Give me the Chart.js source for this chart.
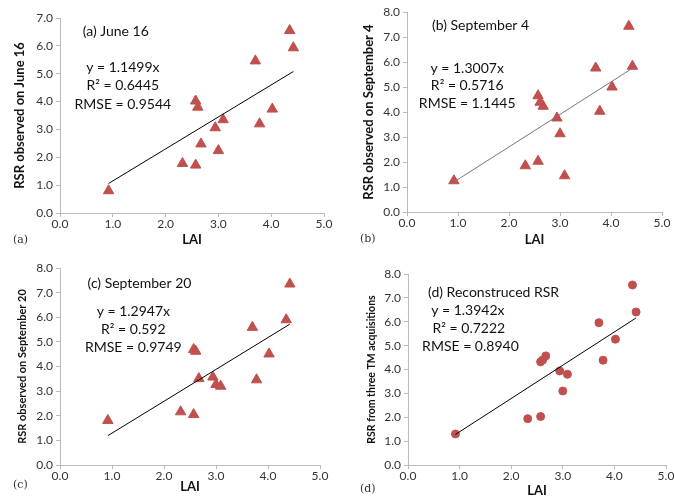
<!DOCTYPE html>
<html>
<head>
<meta charset="utf-8">
<script src="https://cdn.jsdelivr.net/npm/chart.js@4.4.0/dist/chart.umd.min.js"></script>
<style>
    body { margin: 0; background: #fff; }
    #wrap { position: relative; width: 674px; height: 497px; }
    .panel { position: absolute; }
</style>
</head>
<body>
<div id="wrap">
    <div class="panel" style="left:0;top:0"><canvas id="chartA" width="337" height="248"></canvas></div>
    <div class="panel" style="left:337px;top:0"><canvas id="chartB" width="337" height="248"></canvas></div>
    <div class="panel" style="left:0;top:248px"><canvas id="chartC" width="337" height="249"></canvas></div>
    <div class="panel" style="left:337px;top:248px"><canvas id="chartD" width="337" height="249"></canvas></div>
</div>
<script>
// LAI measured in the field (same plots in every panel)
const lai = [0.92, 2.32, 2.57, 2.57, 2.61, 2.67, 2.94, 3.00, 3.09, 3.70, 3.78, 4.02, 4.35, 4.42];

// RSR values per date
const rsrJune16 = [0.80, 1.78, 1.72, 4.02, 3.80, 2.48, 3.06, 2.24, 3.35, 5.46, 3.20, 3.73, 6.55, 5.93];
const rsrSep4 = [1.25, 1.85, 2.03, 4.65, 4.39, 4.23, 3.76, 3.13, 1.45, 5.76, 4.03, 5.00, 7.43, 5.83];
const rsrSep20 = [1.81, 2.16, 2.05, 4.69, 4.62, 3.51, 3.57, 3.27, 3.20, 5.59, 3.46, 4.51, 5.90, 7.35];
const rsrRecon = [1.30, 1.94, 2.03, 4.32, 4.40, 4.57, 3.94, 3.10, 3.80, 5.96, 4.39, 5.27, 7.54, 6.41];

// fitted lines (through origin), end points
const fitX = [0.92, 4.42];
const fitJune16 = [1.06, 5.08];
const fitSep4 = [1.20, 5.75];
const fitSep20 = [1.19, 5.72];
const fitRecon = [1.28, 6.16];

// ticks
const xTicks = [0, 1, 2, 3, 4, 5];
const yTicks7 = [0, 1, 2, 3, 4, 5, 6, 7];
const yTicks8 = [0, 1, 2, 3, 4, 5, 6, 7, 8];

const RED = '#C0504D';
const FONT = 'Lato, "Open Sans", sans-serif';

// draws the panel texts (title, equation, stats, panel tag)
const notesPlugin = {
    id: 'notes',
    afterDraw(chart, args, opts) {
        const ctx = chart.ctx;
        const xs = chart.scales.x, ys = chart.scales.y;
        ctx.save();
        ctx.fillStyle = '#111';
        ctx.textBaseline = 'middle';
        (opts.lines || []).forEach(n => {
            ctx.font = `${n.size || 14}px ${FONT}`;
            ctx.textAlign = n.align || 'center';
            ctx.fillText(n.text, xs.getPixelForValue(n.x), ys.getPixelForValue(n.y));
        });
        if (opts.tag) {
            ctx.font = '11px "DejaVu Serif", "Liberation Serif", serif';
            ctx.textAlign = 'left';
            ctx.fillStyle = '#333';
            ctx.fillText(opts.tag.text, opts.tag.x, opts.tag.y);
        }
        ctx.restore();
    }
};

function makePanel(id, p) {
    const scatter = {
        type: 'scatter',
        data: lai.map((x, i) => ({ x: x, y: p.values[i] })),
        pointStyle: p.marker,
        pointRadius: p.marker === 'triangle' ? 6 : 4,
        pointHoverRadius: p.marker === 'triangle' ? 6 : 4,
        backgroundColor: RED,
        borderColor: RED,
        borderWidth: 1,
        order: 2
    };
    const fit = {
        type: 'line',
        data: fitX.map((x, i) => ({ x: x, y: p.fit[i] })),
        borderColor: p.lineColor || '#000',
        borderWidth: 1,
        pointRadius: 0,
        fill: false,
        order: 1
    };

    new Chart(document.getElementById(id), {
        type: 'scatter',
        data: { datasets: [fit, scatter] },
        plugins: [notesPlugin],
        options: {
            responsive: false,
            animation: false,
            layout: { padding: p.pad },
            plugins: {
                legend: { display: false },
                tooltip: { enabled: false },
                notes: { lines: p.notes, tag: p.tag }
            },
            scales: {
                x: {
                    type: 'linear',
                    min: 0, max: 5,
                    afterBuildTicks: s => { s.ticks = xTicks.map(v => ({ value: v })); },
                    afterFit: s => { s.height = p.xH; s.paddingLeft = 0; s.paddingRight = 0; },
                    ticks: {
                        callback: v => v.toFixed(1),
                        font: { family: FONT, size: 12 },
                        color: '#333',
                        padding: 0,
                        maxRotation: 0
                    },
                    grid: { drawOnChartArea: false, drawTicks: true, tickLength: 4, color: '#bbb' },
                    border: { color: '#bbb' },
                    title: {
                        display: true, text: 'LAI', color: '#111',
                        font: { family: FONT, size: 13, weight: 'bold' },
                        padding: { top: 0, bottom: p.xTitlePad }
                    }
                },
                y: {
                    type: 'linear',
                    min: 0, max: p.yMax,
                    afterBuildTicks: s => { s.ticks = p.yTicks.map(v => ({ value: v })); },
                    afterFit: s => { s.width = p.yW; s.paddingTop = 0; s.paddingBottom = 0; },
                    ticks: {
                        callback: v => v.toFixed(1),
                        font: { family: FONT, size: 12 },
                        color: '#333',
                        padding: 3
                    },
                    grid: { drawOnChartArea: false, drawTicks: true, tickLength: 4, color: '#bbb' },
                    border: { color: '#bbb' },
                    title: {
                        display: true, text: p.yTitle, color: '#111',
                        font: { family: FONT, size: p.yTitleSize, weight: 'bold' },
                        padding: { top: p.yTitlePad, bottom: 0 }
                    }
                }
            }
        }
    });
}

makePanel('chartA', {
    values: rsrJune16, fit: fitJune16, marker: 'triangle',
    yMax: 7, yTicks: yTicks7,
    pad: { left: 0, right: 13, top: 18, bottom: 0 }, yW: 60, xH: 35,
    yTitle: 'RSR observed on June 16', yTitleSize: 13, yTitlePad: 12, xTitlePad: 0,
    tag: { text: '(a)', x: 13, y: 240 },
    notes: [
        { text: '(a) June 16', x: 0.43, y: 6.5, align: 'left' },
        { text: 'y = 1.1499x', x: 1.19, y: 5.24 },
        { text: 'R² = 0.6445', x: 1.19, y: 4.59 },
        { text: 'RMSE = 0.9544', x: 1.19, y: 3.91 }
    ]
});

makePanel('chartB', {
    values: rsrSep4, fit: fitSep4, marker: 'triangle', lineColor: '#777',
    yMax: 8, yTicks: yTicks8,
    pad: { left: 0, right: 12, top: 12, bottom: 0 }, yW: 70, xH: 36,
    yTitle: 'RSR observed on September 4', yTitleSize: 13, yTitlePad: 24, xTitlePad: 0,
    tag: { text: '(b)', x: 23, y: 239 },
    notes: [
        { text: '(b) September 4', x: 0.49, y: 7.45, align: 'left' },
        { text: 'y = 1.3007x', x: 1.18, y: 5.76 },
        { text: 'R² = 0.5716', x: 1.18, y: 5.05 },
        { text: 'RMSE = 1.1445', x: 1.18, y: 4.33 }
    ]
});

makePanel('chartC', {
    values: rsrSep20, fit: fitSep20, marker: 'triangle',
    yMax: 8, yTicks: yTicks8,
    pad: { left: 0, right: 17, top: 20, bottom: 0 }, yW: 60, xH: 32,
    yTitle: 'RSR observed on September 20', yTitleSize: 11, yTitlePad: 16, xTitlePad: 2,
    tag: { text: '(c)', x: 13, y: 237 },
    notes: [
        { text: '(c) September 20', x: 0.53, y: 7.39, align: 'left' },
        { text: 'y = 1.2947x', x: 1.41, y: 6.24 },
        { text: 'R² = 0.592', x: 1.41, y: 5.5 },
        { text: 'RMSE = 0.9749', x: 1.41, y: 4.76 }
    ]
});

makePanel('chartD', {
    values: rsrRecon, fit: fitRecon, marker: 'circle',
    yMax: 8, yTicks: yTicks8,
    pad: { left: 0, right: 8, top: 26, bottom: 0 }, yW: 71, xH: 32,
    yTitle: 'RSR from three TM acquisitions', yTitleSize: 10.5, yTitlePad: 28, xTitlePad: -2,
    tag: { text: '(d)', x: 23, y: 241 },
    notes: [
        { text: '(d) Reconstruced RSR', x: 0.39, y: 7.23, align: 'left' },
        { text: 'y = 1.3942x', x: 1.16, y: 6.49 },
        { text: 'R² = 0.7222', x: 1.18, y: 5.73 },
        { text: 'RMSE = 0.8940', x: 1.21, y: 4.97 }
    ]
});
</script>
</body>
</html>
